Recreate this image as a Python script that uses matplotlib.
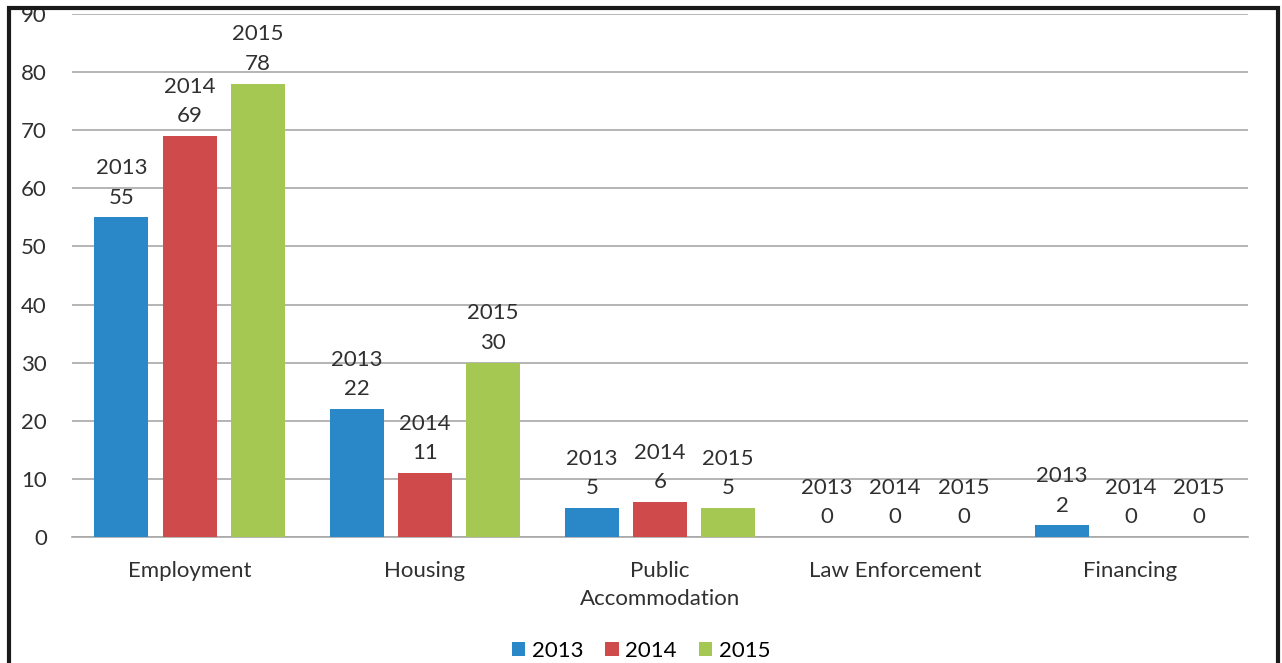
import numpy as np
import matplotlib.pyplot as plt
from matplotlib.patches import Rectangle

# ------------------------------------------------------------
# Data
categories = ["Employment", "Housing", "Public\nAccommodation", "Law Enforcement", "Financing"]
years = ["2013", "2014", "2015"]
values_2013 = [55, 22, 5, 0, 2]
values_2014 = [69, 11, 6, 0, 0]
values_2015 = [78, 30, 5, 0, 0]
y_ticks = [0, 10, 20, 30, 40, 50, 60, 70, 80, 90]

colors = ["#2a88c9", "#cf4a4a", "#a5c852"]
series = [values_2013, values_2014, values_2015]

plt.rcParams['font.family'] = ['Lato', 'DejaVu Sans']
fs = 16

# ------------------------------------------------------------
# Plot
W, H = 1282, 663
fig = plt.figure(figsize=(W / 100, H / 100), dpi=100)
ax = fig.add_axes([72 / W, 1 - 537 / H, (1248 - 72) / W, (537 - 14) / H])

x = np.arange(len(categories))
width = 0.23
offset = 0.29
for i, (vals, year) in enumerate(zip(series, years)):
    pos = x + (i - 1) * offset
    ax.bar(pos, vals, width, color=colors[i], label=year, zorder=3)
    for xp, v in zip(pos, vals):
        ax.annotate(f"{year}\n{v}", (xp, v), xytext=(0, 7), textcoords="offset points",
                    ha="center", va="bottom", fontsize=fs, color="#303030",
                    linespacing=1.6, zorder=4, annotation_clip=False)

ax.set_xlim(-0.5, len(categories) - 0.5)
ax.set_ylim(0, 90)
ax.set_yticks(y_ticks)
ax.set_xticks(x)
ax.set_xticklabels(categories, fontsize=fs, color="#303030", linespacing=1.55)
ax.tick_params(axis="y", length=0, pad=18, labelsize=fs, labelcolor="#303030")
ax.tick_params(axis="x", length=0, pad=17)
ax.grid(axis="y", color="#a8a8a8", linewidth=1.2, zorder=0)
for s in ["top", "right", "left"]:
    ax.spines[s].set_visible(False)
ax.spines["bottom"].set_color("#a8a8a8")
ax.spines["bottom"].set_linewidth(1.2)

fig.legend(loc="center", bbox_to_anchor=(0.5, 12 / H), ncol=3, frameon=False,
           fontsize=fs, handlelength=0.6, handleheight=0.6, handletextpad=0.3,
           columnspacing=1.0)

# outer frame (top cut off like the source image)
fig.patches.append(Rectangle((0, 1 - 8 / H), 1, 8 / H, transform=fig.transFigure,
                             facecolor="white", edgecolor="none", zorder=10))
fig.patches.append(Rectangle((9 / W, -0.05), (1278 - 9) / W, 1 - 8 / H + 0.05,
                             transform=fig.transFigure, facecolor="none",
                             edgecolor="#1a1a1a", linewidth=3, zorder=11))

plt.savefig("out.png", dpi=100)
